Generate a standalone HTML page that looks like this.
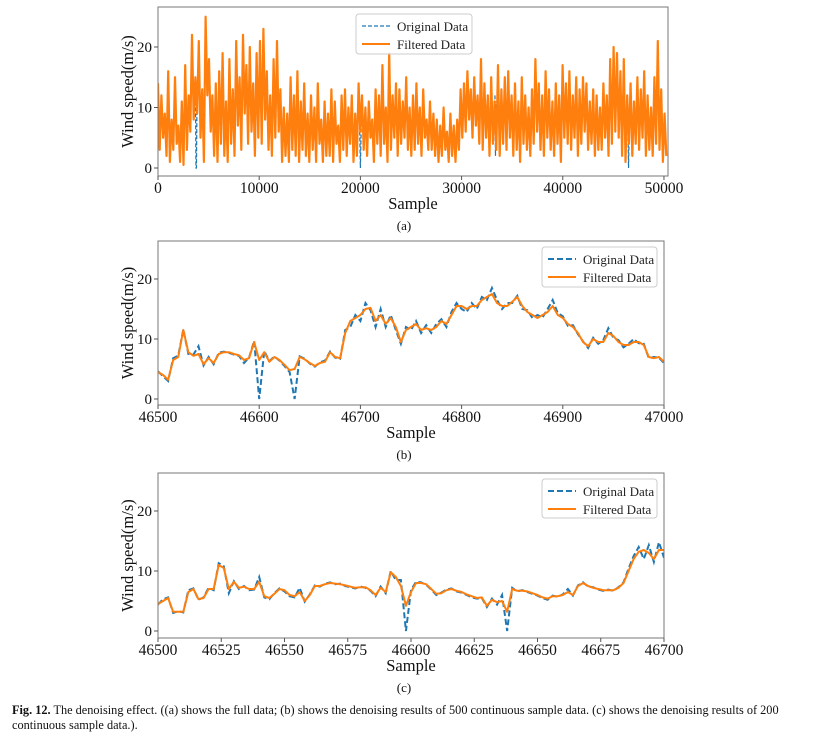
<!DOCTYPE html>
<html><head><meta charset="utf-8">
<style>
html,body{margin:0;padding:0;background:#fff;}
body{width:824px;height:736px;overflow:hidden;position:relative;font-family:"Liberation Serif",serif;}
svg{position:absolute;left:0;top:0;}
.cap{position:absolute;left:12px;font-size:12.3px;color:#111;white-space:nowrap;}
</style></head>
<body>
<svg id="fig" width="824" height="736"></svg>
<div class="cap" style="top:703px"><b>Fig. 12.</b> The denoising effect. ((a) shows the full data; (b) shows the denoising results of 500 continuous sample data. (c) shows the denoising results of 200</div>
<div class="cap" style="top:718px">continuous sample data.).</div>
<script>
// ---- Panel (a) data: full series, one value every 168 samples ----
const filtA = [
14,3,12,5,9,2,16,1,8,3,
15,4,7,1,11,0.5,17,3,12,6,
22,8,15,9,21,5,13,1,25,12,
18,6,12,2,14,1,16,4,19,2,
11,1,18,4,13,2,21,7,15,3,
22,9,17,4,20,6,14,2,19,5,
21,4,23,8,16,3,12,2,18,5,
21,6,13,1,10,2,9,1,15,3,
12,2,16,1,11,3,14,2,9,1,
12,3,10,1,14,4,8,1,11,2,
9,2,13,1,11,4,7,1,12,3,
13,2,10,4,12,1,9,2,14,6,
12,3,10,2,11,5,8,1,13,4,
12,2,17,4,10,1,19,3,12,5,
14,2,13,4,11,5,15,3,10,2,
12,3,14,4,10,2,13,5,8,3,
11,3,9,2,8,1,7,2,10,3,
6,1,9,2,7,1,8,3,13,5,
14,6,16,8,13,5,15,7,12,4,
18,3,14,5,12,2,15,4,11,3,
17,2,13,4,15,3,16,5,12,2,
14,3,11,1,15,4,12,3,10,2,
13,4,18,6,14,3,12,2,16,5,
13,3,11,2,14,4,12,1,17,5,
14,4,16,3,12,5,15,2,13,4,
15,6,14,3,11,4,13,2,12,3,
10,3,14,5,12,2,18,4,20,6,
19,5,16,2,18,1,12,4,14,2,
11,4,15,3,13,5,16,2,12,3,
10,2,15,4,21,3,13,1,9,2];
const stepA = 168;
// original-data spikes visible in panel (a); null separates segments
const origAx = [3700,3750,3800,3850,null,19900,20000,20100,null,46400,46500,46600,null,33300,33350,33400];
const origAy = [12,0,0,10,null,9,0,8,null,10,0,9,null,12,2,11];

// ---- Panel (b) data: every 5 samples from 46500 ----
const filtB = [4.5,4,3.2,6.5,7,11.5,7.8,7.2,7.5,5.8,6.8,6,7.5,7.8,7.8,7.5,7.3,6.5,6.8,9.5,6.5,7.8,6.2,7,6.5,5.7,4.8,5,7,6.6,6,5.5,6,6.2,7.8,7,6.8,11,13,13.5,14,15,15.2,13,14,12.5,13.5,12,9.5,11.5,12,12.5,11.5,11.8,11.5,12,13,12.5,14,15.5,15.5,15,15.5,15.5,16.5,17,17.5,16,15.5,15.5,16.2,17,15.5,14.5,14,13.5,14,14.5,15.5,14,13.5,12.5,12,11,9.5,8.8,10,9.5,9.5,11,10.5,9.5,9,9,9.5,9.5,9,7,6.8,7,6.2];
const origB = [4.6,3.8,3,6.8,7.2,11.6,7.5,7.4,8.8,5.6,7,5.8,7.7,7.9,7.7,7.4,7.2,6,6.9,9.7,0,8,6.3,7.1,6.4,5.5,4.5,0,7.1,6.7,5.9,5.4,6.1,6.4,7.9,6.9,6.7,11.5,12,14,13,16,14.8,12,15,12,14,11.5,9.2,12,11.5,13,11,12.3,11,12.5,13.3,12,14.5,16,15,14.5,16,15,17,16.5,18.5,16.5,15,16,16,17.2,15,14.8,13.5,14,13.6,15,16.5,14.3,13.8,12.2,12.3,10.8,9.6,8.5,10.2,9.2,9.8,11.8,10.2,9.8,8.6,9.2,10,9.3,9.2,6.8,7,6.9,6];
const stepB = 5;

// ---- Panel (c) data: every 2 samples from 46500 ----
const filtC = [4.5,5,5.5,3.2,3.2,3.2,6.5,7,5.3,5.5,7,7,11,10.5,7,8.2,7.2,7.4,7,7,8.2,5.8,5.5,6.2,7,6.8,6,5.8,6.5,5,6,7.5,7.5,7.8,8,7.9,7.8,7.6,7.4,7.2,7.3,7.3,6.8,6,7.2,6.5,9.8,9,7.5,4.2,6.5,8,8,7.8,7,6.2,6.3,6.8,7,6.7,6.5,6.1,5.8,5.5,5.6,4.2,5.2,4.8,5,3.2,7,6.7,6.7,6.6,6.3,6,5.6,5.4,5.8,5.8,6,6.5,6,7.5,8,7.5,7.2,7,6.8,6.8,6.8,7.2,8,10,12,13.2,13.5,13,12,13.5,13.5];
const origC = [4.4,5.3,5.6,3,3.3,3.1,6.8,7.1,5.2,5.6,7.2,6.8,11.3,10.8,6.3,8.3,7,7.5,6.8,6.9,9,5.6,5.3,6.3,7.1,6.6,5.8,5.6,7.2,4.9,6.1,7.6,7.4,7.9,8.1,7.8,7.9,7.5,7.3,7.1,7.4,7.2,6.7,5.8,7.4,6.3,10,8.5,8.5,0,6.8,8.2,8.1,7.7,6.9,6,6.4,6.9,7.1,6.6,6.4,6,5.6,5.4,5.5,4,5.4,4.4,6,0,7.2,6.6,6.8,6.5,6.2,5.9,5.5,5.2,5.9,5.7,6.1,7,5.9,7.6,8.1,7.4,7.3,6.9,6.7,6.9,6.7,7.3,8.1,10.4,12.5,14,12,14.3,11.5,14.8,12.2];
const stepC = 2;

const ticksY = [0,10,20];
const ticksXA = [0,10000,20000,30000,40000,50000];
const ticksXB = [46500,46600,46700,46800,46900,47000];
const ticksXC = [46500,46525,46550,46575,46600,46625,46650,46675,46700];

const NS = "http://www.w3.org/2000/svg";
const svg = document.getElementById('fig');
function mk(tag, attrs, parent){const e=document.createElementNS(NS,tag);for(const k in attrs)e.setAttribute(k,attrs[k]);(parent||svg).appendChild(e);return e;}

function pathFrom(xs, ys, sx, sy){
  let d='', pen=false;
  xs.forEach((x,i)=>{
    if(x===null||ys[i]===null){pen=false;return;}
    d+=(pen?'L':'M')+sx(x).toFixed(2)+' '+sy(ys[i]).toFixed(2);
    pen=true;
  });
  return d;
}

function panel(cfg){
  const g = mk('g',{});
  
  
  const sx = v => cfg.L + (v - cfg.x0)/(cfg.x1 - cfg.x0)*(cfg.R - cfg.L);
  const sy = v => cfg.y0px - v*(cfg.y0px - cfg.y20px)/20;
  const cid = 'clip-'+cfg.name;
  const cp = mk('clipPath',{id:cid},g);
  mk('rect',{x:cfg.L,y:cfg.T,width:cfg.R-cfg.L,height:cfg.B-cfg.T},cp);
  const plot = mk('g',{'clip-path':'url(#'+cid+')'},g);
  const po = mk('path',{d:pathFrom(cfg.origX,cfg.origY,sx,sy),fill:'none',stroke:'#1f77b4','stroke-width':cfg.ow,'stroke-dasharray':cfg.dash},plot);
  
  
  const pf = mk('path',{d:pathFrom(cfg.filtX,cfg.filtY,sx,sy),fill:'none',stroke:'#ff7f0e','stroke-width':cfg.fw,'stroke-linejoin':'round'},plot);
  
  
  const fr = mk('rect',{x:cfg.L,y:cfg.T,width:cfg.R-cfg.L,height:cfg.B-cfg.T,fill:'none',stroke:'#777','stroke-width':1},g);
  
  
  ticksY.forEach(t=>{
    const y=sy(t);
    mk('line',{x1:cfg.L-4,x2:cfg.L,y1:y,y2:y,stroke:'#555'},g);
    const tx=mk('text',{x:cfg.L-6,y:y+5,'text-anchor':'end','font-size':15,fill:'#111'},g);
    tx.textContent=t;
    
    
  });
  cfg.ticksX.forEach(t=>{
    const x=sx(t);
    mk('line',{x1:x,x2:x,y1:cfg.B,y2:cfg.B+4,stroke:'#555'},g);
    const tx=mk('text',{x:x,y:cfg.B+17,'text-anchor':'middle','font-size':15.5,fill:'#111'},g);
    tx.textContent=t;
    
    
  });
  const xl=mk('text',{x:(cfg.L+cfg.R)/2,y:cfg.B+33,'text-anchor':'middle','font-size':16.5,fill:'#111'},g);
  xl.textContent='Sample';
  
  
  const cy=(cfg.T+cfg.B)/2;
  const yl=mk('text',{x:0,y:0,transform:'translate(133,'+cy+') rotate(-90)','text-anchor':'middle','font-size':16.5,fill:'#111'},g);
  yl.textContent='Wind speed(m/s)';
  
  
  const cap=mk('text',{x:404,y:cfg.B+54,'text-anchor':'middle','font-size':13,fill:'#111'},g);
  cap.textContent=cfg.cap;
  
  
  const lg=mk('g',{},g);
  
  
  const [lx,ly,lw,lh]=cfg.leg;
  mk('rect',{x:lx,y:ly,width:lw,height:lh,rx:3,fill:'#fff','fill-opacity':0.85,stroke:'#ccc'},lg);
  mk('line',{x1:lx+6,x2:lx+34,y1:ly+12,y2:ly+12,stroke:'#1f77b4','stroke-width':cfg.ow,'stroke-dasharray':cfg.dash},lg);
  mk('line',{x1:lx+6,x2:lx+34,y1:ly+30,y2:ly+30,stroke:'#ff7f0e','stroke-width':2},lg);
  const t1=mk('text',{x:lx+41,y:ly+17,'font-size':13,fill:'#222'},lg);t1.textContent='Original Data';
  
  
  const t2=mk('text',{x:lx+41,y:ly+35,'font-size':13,fill:'#222'},lg);t2.textContent='Filtered Data';
  
  
}

panel({name:'panel-a-full-data',L:158,R:668,T:7,B:176,x0:0,x1:50400,y0px:168,y20px:47,
  filtX:filtA.map((v,i)=>i*stepA),filtY:filtA,origX:origAx,origY:origAy,ow:1.2,fw:2.2,dash:'4,2',
  ticksX:ticksXA,cap:'(a)',leg:[356,14,116,40]});
panel({name:'panel-b-500-samples',L:158,R:664,T:241,B:405,x0:46500,x1:47000,y0px:399,y20px:279,
  filtX:filtB.map((v,i)=>46500+i*stepB),filtY:filtB,origX:origB.map((v,i)=>46500+i*stepB),origY:origB,ow:2,fw:2,dash:'6,3',
  ticksX:ticksXB,cap:'(b)',leg:[542,247,115,40]});
panel({name:'panel-c-200-samples',L:158,R:664,T:473,B:638,x0:46500,x1:46700,y0px:631,y20px:511,
  filtX:filtC.map((v,i)=>46500+i*stepC),filtY:filtC,origX:origC.map((v,i)=>46500+i*stepC),origY:origC,ow:2,fw:2,dash:'6,3',
  ticksX:ticksXC,cap:'(c)',leg:[542,479,115,39]});
</script>
</body></html>
